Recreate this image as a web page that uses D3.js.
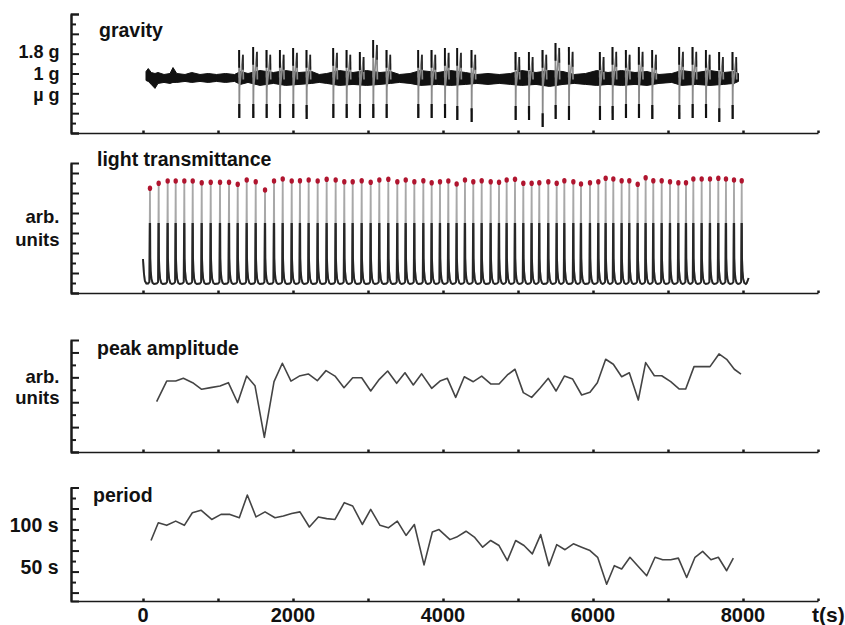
<!DOCTYPE html>
<html>
<head>
<meta charset="utf-8">
<script src="https://cdn.jsdelivr.net/npm/d3@7/dist/d3.min.js"></script>
<style>
  body { margin: 0; background: #fff; }
  text { font-family: "Liberation Sans", Arial, sans-serif; font-weight: bold; fill: #111; }
</style>
</head>
<body>
<script>
// ---- data (time in s) ----

// gravity: noise band envelope (axis units) and the 31 parabolas
var gBandT  = [40,70,110,160,200,280,360,400,450,560,650,760,870,980,1100,1220,1300,1400,1560,1740,1900,2080,2250,2350,2450,2620,2800,2980,3160,3300,3420,3560,3700,3930,4100,4300,4450,4600,4750,4900,5050,5240,5420,5600,5750,5900,6050,6200,6380,6560,6720,6880,7050,7180,7380,7560,7740,7880,7940];
var gBandHi = [3.1,3.25,3.05,3.0,3.05,2.95,3.0,3.3,3.0,2.95,3.05,2.95,3.0,2.95,3.0,2.95,3.1,3.0,3.15,3.05,3.15,3.05,3.1,2.95,3.0,3.15,3.05,3.15,3.05,3.1,2.95,3.0,3.15,3.05,3.15,3.05,2.95,3.0,2.95,3.0,3.15,3.05,3.15,3.1,2.95,3.0,3.15,3.05,3.15,3.05,3.1,2.95,3.0,3.15,3.05,3.15,3.05,3.1,3.0];
var gBandLo = [2.65,2.6,2.45,2.25,2.5,2.55,2.5,2.55,2.55,2.6,2.55,2.6,2.55,2.6,2.55,2.6,2.45,2.55,2.4,2.5,2.4,2.45,2.5,2.55,2.5,2.4,2.45,2.4,2.45,2.5,2.55,2.5,2.4,2.45,2.4,2.45,2.5,2.45,2.5,2.45,2.4,2.45,2.35,2.45,2.5,2.45,2.4,2.45,2.4,2.45,2.4,2.5,2.55,2.4,2.45,2.4,2.45,2.5,2.6];
var gParT   = [1284,1471,1649,1827,2004,2182, 2538,2716,2893,3071,3249, 3671,3849,4027,4191,4382, 4969,5147,5329,5502,5680, 6093,6262,6440,6613,6791, 7151,7329,7507,7684,7862];
var gParHi  = [4.19,4.34,4.19,4.19,4.29,4.19, 4.29,4.19,4.08,4.69,4.19, 4.19,4.19,4.29,4.29,4.19, 4.08,4.08,4.19,4.54,4.34, 4.08,4.34,4.19,4.34,4.19, 4.34,4.34,4.19,4.08,4.08];
var gParLo  = [0.76,0.76,0.76,0.76,0.76,0.71, 0.76,0.76,0.76,0.76,0.76, 0.76,0.76,0.76,0.66,0.55, 0.66,0.66,0.30,0.71,0.66, 0.66,0.66,0.76,0.76,0.71, 0.71,0.76,0.76,0.55,0.71];
var gravityLabels = ["1.8 g", "1 g", "\u00b5 g"];
var gravityLabelAt = [4, 3, 2];

// light transmittance: spike times and peak heights
var lightT = [93,209,329,436,551,663,783,903,1027,1147,1263,1383,1503,1627,1747,1863,1983,2093,2209,2329,2449,2569,2684,2796,2916,3036,3151,3271,3391,3503,3618,
              3738,3849,3960,4071,4182,4293,4404,4516,4636,4747,4849,4960,5071,5182,5284,5404,5516,5618,5738,5840,5960,6071,6169,6271,6382,6484,6596,6702,6804,6916,7027,7138,7240,7338,7449,7560,7671,7773,7880,7983];
var lightPeak = [10.47,10.97,11.2,11.2,11.2,11.2,11.03,11.07,11.07,11.07,10.87,11.3,11.13,10.3,11.2,11.4,11.2,11.23,11.3,11.2,11.37,11.3,11.13,11.13,11.23,11.07,11.3,11.37,11.13,11.3,11.13,
                 11.23,11.03,11.13,11.2,10.9,11.3,11.13,11.23,11.13,11.07,11.3,11.37,10.97,10.97,11.03,11.13,10.97,11.23,11.13,10.9,11.03,11.13,11.47,11.4,11.23,11.23,10.87,11.53,11.23,11.23,11.13,11.03,11.03,11.4,11.4,11.4,11.47,11.4,11.3,11.23];
// shape of one cycle around its peak: [seconds from peak, value]
var lightRise = [[-25, 0.95], [-8, 1.1]];
var lightFall = [[4, 3.5], [10, 2.2], [20, 1.4], [35, 1.0], [55, 0.9]];
var lightLead = [[0, 3.4], [12, 2.0], [25, 1.2], [45, 0.95]];
var lightTail = [[8050, 1.0], [8075, 1.5]];

// peak amplitude
var peakT = [182,316,436,538,662,782,902,1027,1138,1262,1382,1493,1618,1747,1858,1973,2084,2204,2324,2440,2560,2680,2796,2916,3036,3151,3262,3382,3493,3604,3715,
             3849,3960,4058,4169,4284,4404,4516,4636,4747,4858,4960,5071,5182,5293,5404,5507,5618,5729,5849,5960,6058,6169,6271,6382,6484,6604,6702,6818,6916,7036,7151,7236,7347,7458,7560,7680,7782,7884,7973];
var peakV = [4.04,5.7,5.7,5.92,5.57,5.04,5.17,5.3,5.57,3.96,6.1,5.33,1.18,5.65,7.13,5.7,6.1,6.27,5.73,6.54,6.1,5.17,5.97,5.97,4.9,5.84,6.51,5.52,6.37,5.39,6.28,
             5.12,5.7,5.92,4.39,6.05,5.65,6.1,5.47,5.47,6.19,6.65,4.77,4.39,5.12,5.92,4.9,6.1,5.86,4.58,4.8,5.57,7.45,7.05,6.05,6.37,4.18,7.18,6.13,6.13,5.65,5.06,5.06,6.86,6.86,6.86,7.88,7.45,6.65,6.25];

// period (s)
var periodT = [107,204,316,436,551,658,773,916,1040,1160,1284,1391,1507,1627,1760,1871,1982,2093,2218,2338,2449,2560,2684,2796,2924,3036,3160,3271,3391,3507,
               3618,3747,3858,3947,4093,4182,4307,4418,4529,4636,4747,4858,4969,5080,5191,5302,5413,5516,5627,5738,5849,5960,6062,6182,6284,6382,6493,6604,6716,6827,
               6929,7036,7138,7249,7360,7462,7573,7671,7782,7871];
var periodV = [87,108,105,110,105,120,123,112,118,118,114,141,115,121,114,116,119,121,103,115,113,112,132,128,106,124,105,102,110,93,
               106,58,97,100,88,91,98,91,79,87,81,63,87,81,71,94,57,82,76,83,79,75,67,35,57,53,67,56,45,67,
               64,64,66,43,67,74,64,67,51,66];
var periodLabels = ["100 s", "50 s"];
var periodLabelAt = [100, 50];

var xTickLabels = [0, 2000, 4000, 6000, 8000];

// ---- setup ----
var svg = d3.select("body").append("svg").attr("width", 845).attr("height", 625),
    x = d3.scaleLinear().domain([-960, 9000]).range([71, 818]),
    axisX = 71,
    ink = "#1a1a1a";

var yG = d3.scaleLinear().domain([0, 6]).range([133, 14]),
    yL = d3.scaleLinear().domain([0, 13]).range([293, 163]),
    yP = d3.scaleLinear().domain([0, 9]).range([452, 340]),
    yT = d3.scaleLinear().domain([15, 150]).range([601, 487.5]);

function leftAxis(y, majors, minors) {
  var g = svg.append("g").attr("transform", "translate(" + axisX + ",0)");
  g.append("g").call(d3.axisRight(y).tickValues(minors).tickSize(5).tickSizeOuter(0).tickFormat(""));
  g.append("g").call(d3.axisRight(y).tickValues(majors).tickSize(8).tickSizeOuter(8).tickFormat(""));
  g.selectAll("path,line").attr("stroke", ink).attr("stroke-width", 2);
}

function bottomAxis(base) {
  var g = svg.append("g").attr("transform", "translate(0," + base + ")")
    .call(d3.axisBottom(x).tickValues(d3.range(0, 9001, 1000)).tickSize(-2.5).tickSizeOuter(0).tickFormat(""));
  g.select(".domain").attr("stroke", ink).attr("stroke-width", 1.6);
  g.selectAll(".tick line").attr("stroke", ink).attr("stroke-width", 2.5);
}

function label(txt, lx, ly, anchor, size) {
  svg.append("text").attr("x", lx).attr("y", ly).attr("text-anchor", anchor || "start")
    .style("font-size", (size || 19.5) + "px").text(txt);
}

// ---- gravity ----
leftAxis(yG, d3.range(0, 7), d3.range(0.5, 6, 1));
bottomAxis(133);
label("gravity", 99, 37);
label(gravityLabels[0], 59.5, yG(gravityLabelAt[0]) + 4.5, "end", 18);
label(gravityLabels[1], 59.5, yG(gravityLabelAt[1]) + 6, "end", 18);
label(gravityLabels[2], 59.5, yG(gravityLabelAt[2]) + 7.5, "end", 18);

var band = gBandT.map(function(t, i){ return {t: t, hi: gBandHi[i], lo: gBandLo[i]}; });
svg.append("path").datum(band)
  .attr("d", d3.area().x(function(d){ return x(d.t); }).y0(function(d){ return yG(d.lo); }).y1(function(d){ return yG(d.hi); }))
  .attr("fill", "#111").attr("stroke", "#111").attr("stroke-width", 1);

var parLine = d3.line().x(function(d){ return x(d[0]); }).y(function(d){ return yG(d[1]); });
gParT.forEach(function(t, i){
  var hi = gParHi[i], lo = gParLo[i];
  var pts = [[t - 4, 2.8], [t - 2, hi], [t, lo], [t + 3, 2.3], [t + 48, hi - 0.25], [t + 54, 2.7]];
  svg.append("path").attr("d", parLine(pts)).attr("fill", "none").attr("stroke", "#8a8a8a").attr("stroke-width", 1.7);
  svg.append("path").attr("d", parLine([[t - 2, hi], [t - 1.4, hi - 0.9]])).attr("fill", "none").attr("stroke", "#111").attr("stroke-width", 1.9);
  svg.append("path").attr("d", parLine([[t - 0.3, lo + 0.7], [t, lo]])).attr("fill", "none").attr("stroke", "#111").attr("stroke-width", 2.2);
  svg.append("path").attr("d", parLine([[t + 48, hi - 0.25], [t + 50, hi - 1.0]])).attr("fill", "none").attr("stroke", "#222").attr("stroke-width", 1.6);
});

// ---- light transmittance ----
leftAxis(yL, d3.range(0, 13, 2), d3.range(1, 13, 2));
bottomAxis(293);
label("light transmittance", 97, 165.5);
label("arb.", 59.5, 222.5, "end", 18.5);
label("units", 59.5, 246, "end", 18.5);

var lightPts = lightLead.slice();
lightT.forEach(function(t, i){
  lightRise.forEach(function(p){ lightPts.push([t + p[0], p[1]]); });
  lightPts.push([t, lightPeak[i]]);
  lightFall.forEach(function(p){ lightPts.push([t + p[0], p[1]]); });
});
lightTail.forEach(function(p){ lightPts.push(p); });

var lightLine = d3.line().x(function(d){ return x(d[0]); }).y(function(d){ return yL(d[1]); });
svg.append("clipPath").attr("id", "lowPart").append("rect")
  .attr("x", 0).attr("y", yL(7)).attr("width", 845).attr("height", yL(0) - yL(7) + 10);
svg.append("path").attr("d", lightLine(lightPts)).attr("fill", "none")
  .attr("stroke", "#a8a8a8").attr("stroke-width", 1.8);
svg.append("path").attr("d", lightLine(lightPts)).attr("fill", "none")
  .attr("stroke", "#262626").attr("stroke-width", 1.9).attr("clip-path", "url(#lowPart)");

svg.append("g").selectAll("ellipse").data(lightT).enter().append("ellipse")
  .attr("cx", function(d){ return x(d); })
  .attr("cy", function(d, i){ return yL(lightPeak[i]); })
  .attr("rx", 2.2).attr("ry", 2.8)
  .attr("fill", "#b0152f");

// ---- peak amplitude ----
leftAxis(yP, d3.range(0, 9, 2), d3.range(1, 9, 2));
bottomAxis(452);
label("peak amplitude", 97, 354.5);
label("arb.", 59.5, 383, "end", 18.5);
label("units", 59.5, 404, "end", 18.5);

svg.append("path").datum(peakT.map(function(t, i){ return [t, peakV[i]]; }))
  .attr("d", d3.line().x(function(d){ return x(d[0]); }).y(function(d){ return yP(d[1]); }))
  .attr("fill", "none").attr("stroke", "#444").attr("stroke-width", 1.6).attr("stroke-linejoin", "round");

// ---- period ----
leftAxis(yT, d3.range(25, 151, 25), d3.range(37.5, 150, 25));
bottomAxis(601);
label("period", 93, 502);
periodLabels.forEach(function(d, i){ label(d, 58.5, yT(periodLabelAt[i]) + 2, "end"); });

svg.append("path").datum(periodT.map(function(t, i){ return [t, periodV[i]]; }))
  .attr("d", d3.line().x(function(d){ return x(d[0]); }).y(function(d){ return yT(d[1]); }))
  .attr("fill", "none").attr("stroke", "#444").attr("stroke-width", 1.6).attr("stroke-linejoin", "round");

xTickLabels.forEach(function(d){ label(d, x(d), 622, "middle", 20); });
label("t(s)", 812, 622, "start", 21);
</script>
</body>
</html>
